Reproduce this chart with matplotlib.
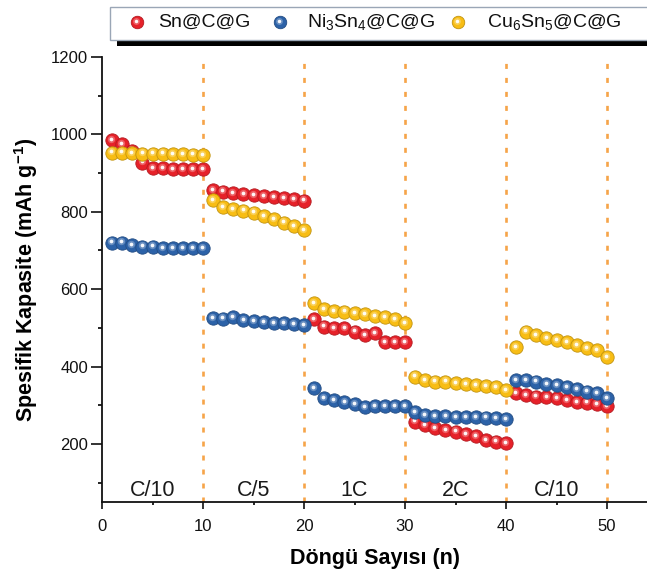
import numpy as np
import matplotlib
matplotlib.use("Agg")
import matplotlib.pyplot as plt
from matplotlib.patches import Rectangle
from matplotlib.transforms import ScaledTranslation
from matplotlib.colors import to_rgb

plt.rcParams['font.family'] = ['Liberation Sans', 'DejaVu Sans']
plt.rcParams['mathtext.fontset'] = 'custom'
plt.rcParams['mathtext.rm'] = 'Liberation Sans'
plt.rcParams['mathtext.it'] = 'Liberation Sans:italic'
plt.rcParams['mathtext.bf'] = 'Liberation Sans:bold'

# ---- data ----
cycles = np.arange(1, 51)

sn_c_g = [985, 975, 958, 927, 913, 912, 911, 911, 910, 910,
          856, 852, 848, 845, 843, 840, 838, 836, 833, 829,
          522, 503, 500, 499, 490, 482, 486, 464, 464, 464,
          258, 249, 241, 236, 232, 226, 221, 210, 206, 203,
          331, 327, 322, 321, 318, 314, 309, 307, 303, 298]

ni3sn4_c_g = [720, 720, 714, 710, 710, 706, 706, 707, 707, 706,
              525, 524, 527, 520, 517, 515, 512, 512, 510, 507,
              344, 318, 314, 309, 303, 296, 298, 298, 298, 298,
              283, 275, 272, 272, 270, 269, 269, 268, 266, 264,
              365, 364, 361, 355, 352, 347, 341, 335, 331, 318]

cu6sn5_c_g = [953, 953, 952, 950, 950, 950, 949, 949, 948, 947,
              830, 812, 806, 803, 798, 789, 781, 772, 763, 753,
              564, 548, 544, 542, 539, 536, 531, 527, 522, 512,
              374, 365, 361, 361, 357, 355, 352, 350, 346, 340,
              451, 490, 482, 473, 469, 464, 456, 447, 443, 424]

series_labels = ["Sn@C@G", "Ni$_3$Sn$_4$@C@G", "Cu$_6$Sn$_5$@C@G"]
series_colors = ["#E62129", "#2C62A8", "#F8BD14"]

rate_boundaries = [10, 20, 30, 40, 50]
rate_labels = ["C/10", "C/5", "1C", "2C", "C/10"]
rate_label_x = [5, 15, 25, 35, 45]

# ---- figure ----
W, H = 647, 576
fig = plt.figure(figsize=(W / 100, H / 100), dpi=100)
ax = fig.add_axes([102 / W, (H - 502) / H, (W - 102) / W, (502 - 57) / H])


def shade(c, f):
    r, g, b = to_rgb(c)
    if f >= 0:
        return (r + (1 - r) * f, g + (1 - g) * f, b + (1 - b) * f)
    return (r * (1 + f), g * (1 + f), b * (1 + f))


def balls(axis, x, y, color, size=9.6, z=3, transform=None):
    """Glossy sphere markers: dark rim, body, soft sheen, white glint."""
    tr = transform if transform is not None else axis.transData
    glint = tr + ScaledTranslation(-0.6 / 72, 0.9 / 72, fig.dpi_scale_trans)
    axis.plot(x, y, 'o', ms=size, mfc=color, mec=shade(color, -0.22),
              mew=0.6, ls='none', zorder=z, transform=tr, clip_on=False)
    axis.plot(x, y, 'o', ms=size * 0.55, mfc=shade(color, 0.35), mec='none',
              alpha=0.8, ls='none', zorder=z + 0.1, transform=glint, clip_on=False)
    axis.plot(x, y, 'o', ms=size * 0.28, mfc='white', mec='none',
              alpha=0.95, ls='none', zorder=z + 0.2, transform=glint, clip_on=False)


# rate-change separators
for xb in rate_boundaries:
    ax.axvline(xb, color='#F6A449', lw=1.9, ls=(0, (1.9, 3.4)), zorder=1)

# series (red, yellow, blue stacking order)
balls(ax, cycles, sn_c_g, series_colors[0], z=3)
balls(ax, cycles, cu6sn5_c_g, series_colors[2], z=4)
balls(ax, cycles, ni3sn4_c_g, series_colors[1], z=5)

# C-rate labels
for xl, lab in zip(rate_label_x, rate_labels):
    ax.text(xl, 81, lab, ha='center', va='center', fontsize=15.5, color='#1a1a1a')

ax.set_xlim(0, 545 / 10.1)
ax.set_ylim(50, 1200)
ax.set_xticks([0, 10, 20, 30, 40, 50])
ax.set_xticks([5, 15, 25, 35, 45], minor=True)
ax.set_yticks([200, 400, 600, 800, 1000, 1200])
ax.set_yticks([100, 300, 500, 700, 900, 1100], minor=True)

for s in ['top', 'right']:
    ax.spines[s].set_visible(False)
for s in ['left', 'bottom']:
    ax.spines[s].set_linewidth(1.3)
    ax.spines[s].set_color('#111111')

ax.tick_params(axis='y', which='major', direction='out', length=8, width=1.2,
               labelsize=12, pad=2, colors='#111111')
ax.tick_params(axis='y', which='minor', direction='out', length=3, width=1.2)
ax.tick_params(axis='x', which='major', direction='out', length=5, width=1.2,
               labelsize=12, pad=7, colors='#111111')
ax.tick_params(axis='x', which='minor', direction='out', length=2.5, width=1.2)

ax.set_xlabel("Döngü Sayısı (n)", fontsize=15.5, fontweight='bold', labelpad=10)
ax.set_ylabel(r"Spesifik Kapasite (mAh g$^{\mathbf{-1}}$)", fontsize=15.5,
              fontweight='bold', labelpad=8)

# ---- legend box with drop shadow (figure pixel space) ----
lg = fig.add_axes([0, 0, 1, 1], zorder=10)
lg.set_xlim(0, W)
lg.set_ylim(H, 0)
lg.axis('off')
lg.patch.set_alpha(0)
lg.add_patch(Rectangle((117, 38), 600, 8, fc='black', ec='none', zorder=1))
lg.add_patch(Rectangle((110, 7), 600, 33, fc='white', ec='#9AA6B6', lw=1.0, zorder=2))

legend_ball_x = [137, 280, 458]
legend_text_x = [158, 307, 487]
for bx, tx, lab, col in zip(legend_ball_x, legend_text_x, series_labels, series_colors):
    balls(lg, [bx], [22], col, size=9.0, z=3)
    lg.text(tx, 22, lab, ha='left', va='center', fontsize=14, color='#111111', zorder=4)

fig.savefig("out.png", dpi=100)
